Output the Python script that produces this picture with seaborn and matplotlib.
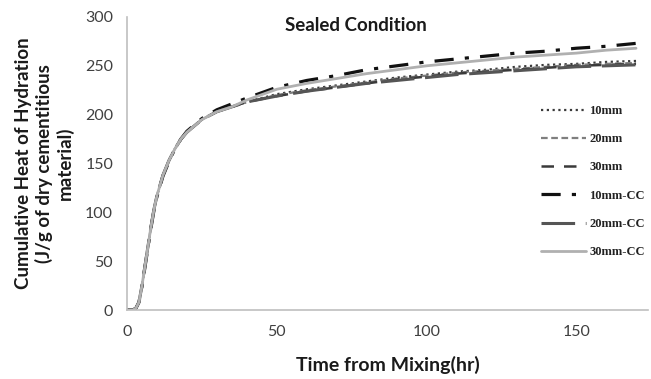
import matplotlib
matplotlib.use("Agg")
import matplotlib.pyplot as plt
import seaborn as sns
import pandas as pd

# Elapsed time since mixing (hr)
time_hr = [0, 1, 2, 3, 4, 5, 6, 7, 8, 9, 10, 12, 14, 16, 18, 20, 25, 30, 35, 40,
           50, 60, 70, 80, 90, 100, 110, 120, 130, 140, 150, 160, 170]

# Shared early-age hydration (first 40 hr)
early = [0, 0, 0, 2, 8, 25, 45, 65, 85, 103, 117, 138, 153, 165, 175, 182, 195, 203, 208, 213]

# Cumulative heat of hydration (J/g of dry cementitious material)
heat_10mm = early + [221, 226, 230, 234, 238, 241, 244, 246, 249, 251, 252, 254, 255]
heat_20mm = early + [220, 225, 229, 233, 237, 240, 243, 245, 247, 249, 251, 252, 253]
heat_30mm = early + [219, 224, 228, 232, 236, 239, 242, 244, 246, 248, 250, 251, 252]
heat_10mm_cc = [0, 0, 0, 2, 8, 24, 44, 64, 84, 102, 116, 137, 152, 165, 175, 183, 196, 205, 211, 217,
                228, 235, 240, 246, 250, 254, 257, 260, 263, 265, 268, 270, 273]
heat_20mm_cc = early + [219, 224, 228, 232, 235, 238, 241, 243, 245, 247, 249, 250, 251]
heat_30mm_cc = early[:-1] + [215, 226, 232, 237, 242, 246, 250, 253, 256, 259, 261, 263, 266, 268]

series_names = ["10mm", "20mm", "30mm", "10mm-CC", "20mm-CC", "30mm-CC"]
series_values = [heat_10mm, heat_20mm, heat_30mm, heat_10mm_cc, heat_20mm_cc, heat_30mm_cc]

df = pd.DataFrame(
    [(name, t, v) for name, vals in zip(series_names, series_values) for t, v in zip(time_hr, vals)],
    columns=["series", "time", "heat"],
)

line_styles = {
    "10mm":    dict(color="#3a3a3a", lw=1.6, dashes=(1, 1.6)),
    "20mm":    dict(color="#7f7f7f", lw=1.6, dashes=(3, 1.6)),
    "30mm":    dict(color="#3a3a3a", lw=1.8, dashes=(5, 4)),
    "10mm-CC": dict(color="#111111", lw=2.3, dashes=(6, 3.5, 1.3, 3.5)),
    "20mm-CC": dict(color="#555555", lw=2.2, dashes=(11, 3.5)),
    "30mm-CC": dict(color="#b0b0b0", lw=2.0, dashes=None),
}

sns.set_theme(style="white")
plt.rcParams["font.family"] = ["Lato", "DejaVu Sans"]

fig = plt.figure(figsize=(6.51, 3.79), dpi=100)
ax = fig.add_axes([127 / 651, 1 - 310 / 379, (648 - 127) / 651, (310 - 17) / 379])

for name in series_names:
    st = line_styles[name]
    sub = df[df["series"] == name]
    line = sns.lineplot(data=sub, x="time", y="heat", ax=ax, color=st["color"],
                        linewidth=st["lw"], label=name).lines[-1]
    if st["dashes"] is not None:
        line.set_dashes(st["dashes"])

ax.set_xlim(0, 174)
ax.set_ylim(0, 300)
ax.set_xticks([0, 50, 100, 150])
ax.set_yticks([0, 50, 100, 150, 200, 250, 300])
ax.tick_params(axis="y", length=0, labelsize=11.5, pad=10)
ax.tick_params(axis="x", length=0, labelsize=11.5, pad=11)
for lab in ax.get_xticklabels() + ax.get_yticklabels():
    lab.set_color("#404040")

for side in ["top", "right"]:
    ax.spines[side].set_visible(False)
for side in ["left", "bottom"]:
    ax.spines[side].set_color("#bfbfbf")
    ax.spines[side].set_linewidth(1.2)

ax.set_xlabel("Time from Mixing(hr)", fontsize=14, fontweight="bold", color="#1a1a1a", labelpad=12)
ax.set_ylabel("Cumulative Heat of Hydration\n(J/g of dry cementitious\nmaterial)",
              fontsize=13.5, fontweight="bold", color="#1a1a1a", labelpad=8, linespacing=1.2)
ax.set_title("Sealed Condition", fontsize=13.5, fontweight="bold", color="#1a1a1a", pad=-10, x=0.44)

leg = ax.legend(loc="upper left", bbox_to_anchor=(541 / 651, 1 - 105 / 379),
                bbox_transform=fig.transFigure, frameon=False, borderpad=0, borderaxespad=0,
                handlelength=3.6, handletextpad=0.25, labelspacing=1.3,
                prop={"family": ["Liberation Serif"], "weight": "bold", "size": 9})
for txt in leg.get_texts():
    txt.set_color("#222222")

fig.savefig("out.png", dpi=100)
